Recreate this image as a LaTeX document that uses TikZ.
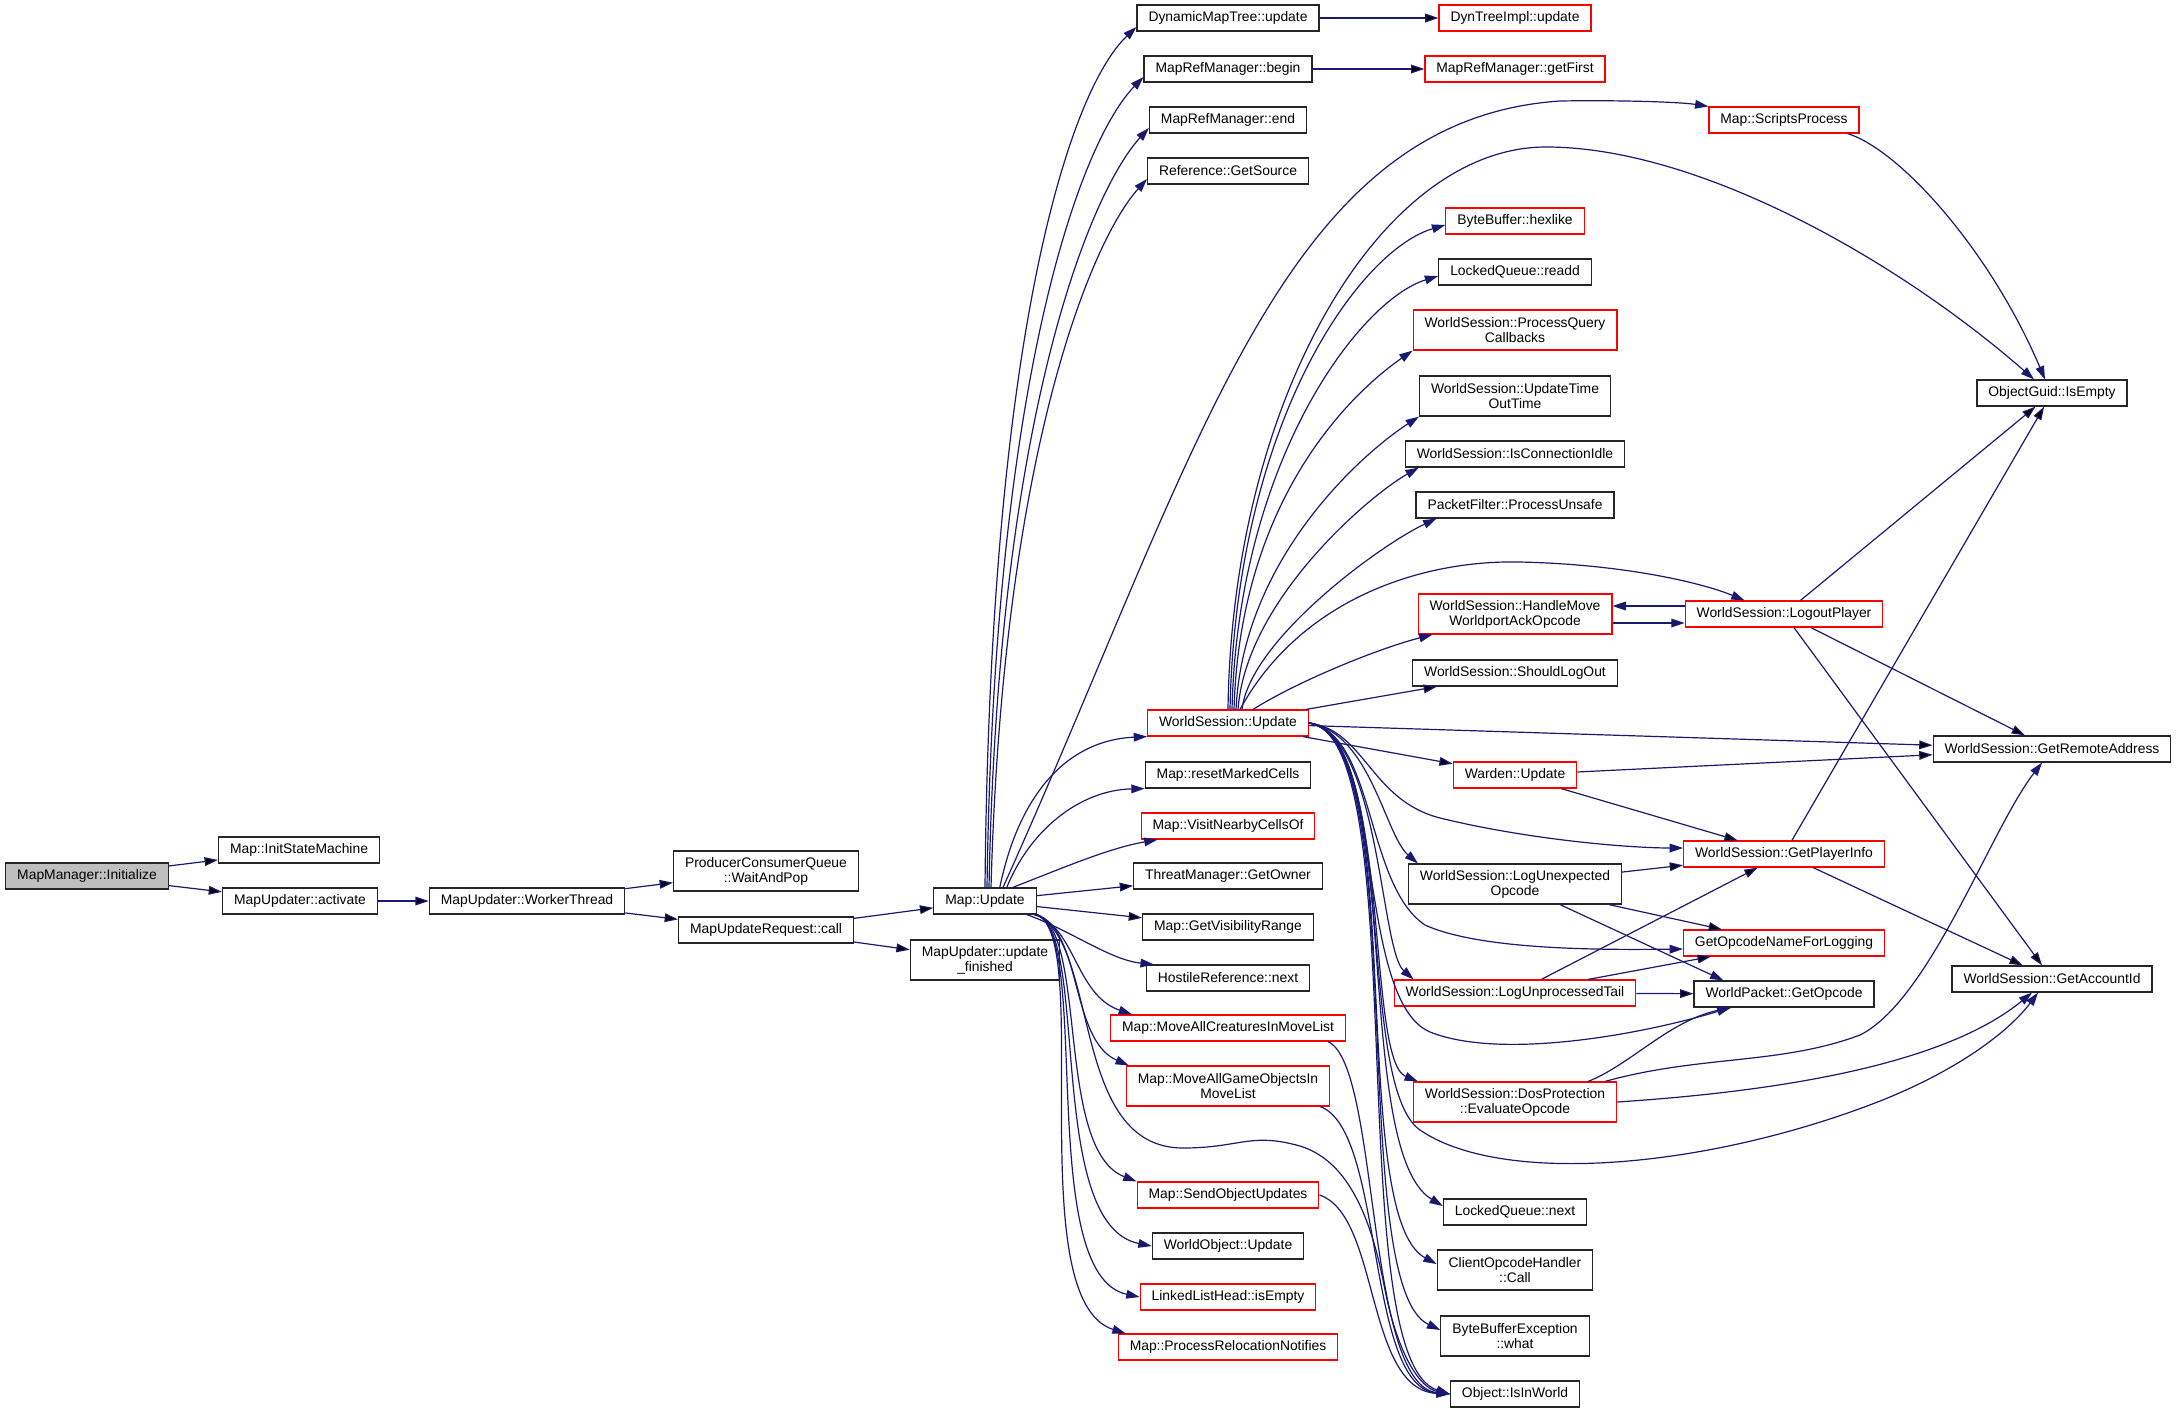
\documentclass[tikz,border=0pt]{standalone}
\usepackage{fontspec}
\setmainfont{Liberation Sans}
\usepackage{xcolor}
\usepackage{tikz}
\usetikzlibrary{arrows.meta,calc}
\definecolor{edgeblue}{HTML}{191970}

\begin{document}
\begin{tikzpicture}[x=0.75pt, y=-0.75pt,
  fn/.style={draw=black!85, fill=white, line width=0.9pt, inner xsep=8.6pt, inner ysep=3.4pt,
    minimum height=19.5pt, align=center, font=\fontsize{10.4}{11.25}\selectfont},
  fnred/.style={fn, draw=red},
  fnroot/.style={fn, fill=black!25},
  twoline/.style={minimum height=30pt},
  link/.style={->, draw=edgeblue, line width=0.9pt},
  >={Triangle[length=10pt,width=6.5pt]}]
  \useasboundingbox (0,0) rectangle (2177,1413);

  % left chain
  \node[fnroot] (init) at (87,876) {MapManager::Initialize};
  \node[fn] (ism)  at (299,850) {Map::InitStateMachine};
  \node[fn] (act)  at (300,901) {MapUpdater::activate};
  \node[fn] (wrk)  at (527,901) {MapUpdater::WorkerThread};
  \node[fn, twoline] (wap) at (766,871) {ProducerConsumerQueue\\::WaitAndPop};
  \node[fn] (call) at (766,930) {MapUpdateRequest::call};
  \node[fn] (mupd) at (985,901) {Map::Update};
  \node[fn, twoline] (upf) at (985,960) {MapUpdater::update\\\_finished};

  % callees of Map::Update
  \node[fn]    (dmt)  at (1228,18)   {DynamicMapTree::update};
  \node[fn]    (mrb)  at (1228,69)   {MapRefManager::begin};
  \node[fn]    (mre)  at (1228,120)  {MapRefManager::end};
  \node[fn]    (gsrc) at (1228,171)  {Reference::GetSource};
  \node[fnred] (wsu)  at (1228,723)  {WorldSession::Update};
  \node[fn]    (rmc)  at (1228,775)  {Map::resetMarkedCells};
  \node[fnred] (vnc)  at (1228,826)  {Map::VisitNearbyCellsOf};
  \node[fn]    (tmgo) at (1228,876)  {ThreatManager::GetOwner};
  \node[fn]    (gvr)  at (1228,927)  {Map::GetVisibilityRange};
  \node[fn]    (hrn)  at (1228,978)  {HostileReference::next};
  \node[fnred] (macm) at (1228,1028) {Map::MoveAllCreaturesInMoveList};
  \node[fnred, twoline] (magm) at (1228,1086) {Map::MoveAllGameObjectsIn\\MoveList};
  \node[fnred] (sou)  at (1228,1195) {Map::SendObjectUpdates};
  \node[fn]    (wou)  at (1228,1246) {WorldObject::Update};
  \node[fnred] (lle)  at (1228,1297) {LinkedListHead::isEmpty};
  \node[fnred] (prn)  at (1228,1347) {Map::ProcessRelocationNotifies};

  % third column
  \node[fnred] (dti)  at (1515,18)   {DynTreeImpl::update};
  \node[fnred] (mrgf) at (1515,69)   {MapRefManager::getFirst};
  \node[fnred] (hex)  at (1515,221)  {ByteBuffer::hexlike};
  \node[fn]    (rdd)  at (1515,272)  {LockedQueue::readd};
  \node[fnred, twoline] (pqc)  at (1515,330) {WorldSession::ProcessQuery\\Callbacks};
  \node[fn, twoline]    (utot) at (1515,396) {WorldSession::UpdateTime\\OutTime};
  \node[fn]    (ici)  at (1515,454)  {WorldSession::IsConnectionIdle};
  \node[fn]    (pfu)  at (1515,505)  {PacketFilter::ProcessUnsafe};
  \node[fnred, twoline] (hmwa) at (1515,614) {WorldSession::HandleMove\\WorldportAckOpcode};
  \node[fn]    (slog) at (1515,673)  {WorldSession::ShouldLogOut};
  \node[fnred] (wdn)  at (1515,775)  {Warden::Update};
  \node[fn, twoline]    (lueo) at (1515,884) {WorldSession::LogUnexpected\\Opcode};
  \node[fnred] (lupt) at (1515,993)  {WorldSession::LogUnprocessedTail};
  \node[fnred, twoline] (depo) at (1515,1102) {WorldSession::DosProtection\\::EvaluateOpcode};
  \node[fn]    (lqn)  at (1515,1212) {LockedQueue::next};
  \node[fn, twoline] (coh) at (1515,1270) {ClientOpcodeHandler\\::Call};
  \node[fn, twoline] (bbe) at (1515,1336) {ByteBufferException\\::what};
  \node[fn]    (iiw)  at (1515,1394) {Object::IsInWorld};

  % right columns
  \node[fnred] (scr)  at (1784,120)  {Map::ScriptsProcess};
  \node[fnred] (lp)   at (1784,614)  {WorldSession::LogoutPlayer};
  \node[fnred] (gpi)  at (1784,854)  {WorldSession::GetPlayerInfo};
  \node[fnred] (gonl) at (1784,943)  {GetOpcodeNameForLogging};
  \node[fn]    (wpgo) at (1784,994)  {WorldPacket::GetOpcode};
  \node[fn]    (ogie) at (2052,393)  {ObjectGuid::IsEmpty};
  \node[fn]    (gra)  at (2052,749)  {WorldSession::GetRemoteAddress};
  \node[fn]    (gaid) at (2052,979)  {WorldSession::GetAccountId};

  % straight calls
  \path[link]
  (init) edge (ism)
  (init) edge (act)
  (act) edge (wrk)
  (wrk) edge (wap)
  (wrk) edge (call)
  (call) edge (mupd)
  (call) edge (upf)
  (mupd) edge (tmgo)
  (mupd) edge (gvr)
  (dmt) edge (dti)
  (mrb) edge (mrgf)
  (wsu) edge (wdn)
  (wsu) edge (slog)
  (wsu) edge (gra)
  (wdn) edge (gra)
  (wdn) edge (gpi)
  (lp) edge (ogie)
  (lp) edge (gra)
  (lp) edge (gaid)
  (gpi) edge (ogie)
  (gpi) edge (gaid)
  (lueo) edge (gpi)
  (lueo) edge (gonl)
  (lupt) edge (gpi)
  (lupt) edge (gonl)
  (lupt) edge (wpgo)
  ;
  \draw[link] ($(lp.west)+(0,-8)$) -- ($(hmwa.east)+(0,-8)$);
  \draw[link] ($(hmwa.east)+(0,9)$) -- ($(lp.west)+(0,9)$);
  \draw[link] ($(lueo.south)+(45,0)$) -- ($(wpgo.north west)+(30,0)$);

  % Map::Update, upwards
  \draw[link] (mupd.north) .. controls (990,330) and (1070,90) .. ($(dmt.west)+(0,9)$);
  \draw[link] ($(mupd.north)+(2,0)$) .. controls (994,370) and (1082,140) .. ($(mrb.west)+(0,8)$);
  \draw[link] ($(mupd.north)+(4,0)$) .. controls (998,410) and (1092,190) .. ($(mre.west)+(0,8)$);
  \draw[link] ($(mupd.north)+(6,0)$) .. controls (1003,450) and (1092,240) .. ($(gsrc.west)+(0,8)$);
  \draw[link] ($(mupd.north)+(18,0)$) .. controls (1200,450) and (1280,120) .. (1560,101)
    .. controls (1620,100) and (1680,102) .. (scr.north west);
  \draw[link] ($(mupd.north east)+(-37,0)$) .. controls (1020,790) and (1070,740) .. (wsu.south west);
  \draw[link] ($(mupd.north east)+(-30,0)$) .. controls (1030,830) and (1080,790) .. (rmc.south west);
  \draw[link] ($(mupd.north east)+(-24,0)$) .. controls (1070,865) and (1110,848) .. ($(vnc.south west)+(17,0)$);

  % Map::Update, downwards
  \draw[link] ($(mupd.south east)+(-10,0)$) .. controls (1070,930) and (1110,960) .. ($(hrn.north west)+(8,0)$);
  \draw[link] ($(mupd.south east)+(-3,0)$) .. controls (1075,925) and (1075,995) .. ($(macm.north west)+(22,0)$);
  \draw[link] (mupd.south east) .. controls (1082,930) and (1070,1040) .. ($(magm.north west)+(3,0)$);
  \draw[link] (mupd.south east) .. controls (1088,932) and (1055,1150) .. (sou.north west);
  \draw[link] (mupd.south east) .. controls (1090,934) and (1045,1225) .. (wou.west);
  \draw[link] (mupd.south east) .. controls (1092,936) and (1035,1275) .. (lle.west);
  \draw[link] (mupd.south east) .. controls (1094,938) and (1020,1300) .. ($(prn.north west)+(8,0)$);
  \draw[link] (mupd.south east) .. controls (1100,945) and (1070,1148) .. (1183,1148)
    .. controls (1240,1148) and (1250,1132) .. (1300,1146)
    .. controls (1345,1160) and (1370,1210) .. (1385,1290)
    .. controls (1398,1355) and (1420,1388) .. (iiw.west);

  % into Object::IsInWorld
  \draw[link] ($(macm.south east)+(-18,0)$) .. controls (1380,1065) and (1365,1385) .. (iiw.west);
  \draw[link] ($(magm.south east)+(-10,0)$) .. controls (1385,1130) and (1365,1388) .. (iiw.west);
  \draw[link] (sou.east) .. controls (1380,1215) and (1365,1390) .. (iiw.west);

  % WorldSession::Update, upwards
  \draw[link] (wsu.north) .. controls (1232,400) and (1380,147) .. (1546,147)
    .. controls (1700,147) and (1900,262) .. ($(ogie.north)+(-18,0)$);
  \draw[link] ($(wsu.north)+(2,0)$) .. controls (1236,420) and (1360,250) .. ($(hex.west)+(0,4)$);
  \draw[link] ($(wsu.north)+(4,0)$) .. controls (1238,460) and (1360,300) .. ($(rdd.west)+(0,4)$);
  \draw[link] ($(wsu.north)+(6,0)$) .. controls (1240,500) and (1350,394) .. (pqc.south west);
  \draw[link] ($(wsu.north)+(8,0)$) .. controls (1243,560) and (1360,455) .. (utot.south west);
  \draw[link] ($(wsu.north)+(10,0)$) .. controls (1246,600) and (1370,495) .. ($(ici.south west)+(14,0)$);
  \draw[link] ($(wsu.north)+(14,0)$) .. controls (1250,640) and (1380,545) .. ($(pfu.south west)+(21,0)$);
  \draw[link] ($(wsu.north)+(12,0)$) .. controls (1300,600) and (1420,560) .. (1519,562)
    .. controls (1620,564) and (1700,582) .. ($(lp.north west)+(60,0)$);
  \draw[link] ($(wsu.north)+(25,0)$) .. controls (1300,680) and (1380,648) .. ($(hmwa.south west)+(15,0)$);

  % WorldSession::Update, downwards
  \draw[link] (wsu.east) .. controls (1365,730) and (1370,800) .. (1440,818)
    .. controls (1530,840) and (1630,848) .. ($(gpi.west)+(0,-6)$);
  \draw[link] (wsu.east) .. controls (1370,732) and (1385,835) .. ($(lueo.north west)+(10,0)$);
  \draw[link] (wsu.east) .. controls (1375,733) and (1365,885) .. (1425,925)
    .. controls (1480,950) and (1600,950) .. ($(gonl.west)+(0,6)$);
  \draw[link] (wsu.east) .. controls (1380,734) and (1380,950) .. ($(lupt.north west)+(20,0)$);
  \draw[link] (wsu.east) .. controls (1385,735) and (1355,1000) .. (1430,1032)
    .. controls (1500,1060) and (1640,1035) .. ($(wpgo.south west)+(37,0)$);
  \draw[link] (wsu.east) .. controls (1392,735) and (1365,1060) .. ($(depo.north west)+(5,0)$);
  \draw[link] (wsu.east) .. controls (1398,735) and (1355,1085) .. (1420,1130)
    .. controls (1500,1185) and (1700,1170) .. (1875,1103)
    .. controls (1960,1070) and (2010,1030) .. ($(gaid.south)+(-14,0)$);
  \draw[link] (wsu.east) .. controls (1405,735) and (1350,1150) .. ($(lqn.west)+(0,-6)$);
  \draw[link] (wsu.east) .. controls (1410,735) and (1345,1215) .. ($(coh.west)+(0,-6)$);
  \draw[link] (wsu.east) .. controls (1412,735) and (1345,1285) .. ($(bbe.west)+(0,-6)$);
  \draw[link] (wsu.east) .. controls (1415,735) and (1340,1360) .. (iiw.west);

  % right side
  \draw[link] ($(scr.south east)+(-12,0)$) .. controls (1900,150) and (1990,250) .. ($(ogie.north)+(-7,0)$);
  \draw[link] ($(depo.north east)+(-29,0)$) .. controls (1630,1065) and (1670,1020) .. ($(wpgo.south west)+(38,0)$);
  \draw[link] ($(depo.north east)+(-12,0)$) .. controls (1700,1055) and (1780,1065) .. (1860,1035)
    .. controls (1930,1000) and (1990,830) .. ($(gra.south)+(-10,0)$);
  \draw[link] (depo.east) .. controls (1800,1090) and (1950,1060) .. ($(gaid.south)+(-20,0)$);
\end{tikzpicture}
\end{document}
